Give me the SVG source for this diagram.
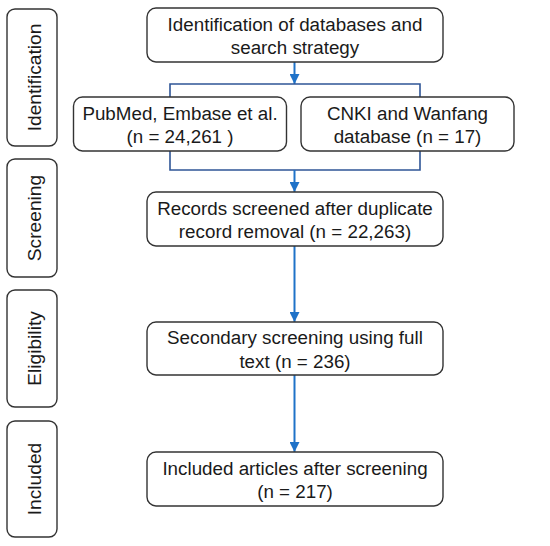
<svg xmlns="http://www.w3.org/2000/svg" width="550" height="546" viewBox="0 0 550 546">
<defs>
<style>
.box{fill:#fff;stroke:#333;stroke-width:1.4}
.t{font-family:"Liberation Sans",Arial,sans-serif;font-size:18.8px;fill:#1a1a1a;text-anchor:middle}
.s{font-size:19.2px}
.arr{stroke:#1f72c8;stroke-width:2;fill:none}
.br{stroke:#2f5597;stroke-width:1.6;fill:none}
</style>
<marker id="ah" viewBox="0 0 10 10" refX="10" refY="5" markerWidth="5" markerHeight="5" orient="auto" markerUnits="strokeWidth">
<path d="M0,0 L10,5 L0,10 z" fill="#1f72c8"/>
</marker>
</defs>
<rect width="550" height="546" fill="#fff"/>
<g id="side-identification"><rect class="box" x="7" y="9" width="50" height="137" rx="8"/><text class="t s" transform="translate(41,77.5) rotate(-90)">Identification</text></g>
<g id="side-screening"><rect class="box" x="7" y="159" width="50" height="118" rx="8"/><text class="t s" transform="translate(41,218) rotate(-90)">Screening</text></g>
<g id="side-eligibility"><rect class="box" x="7" y="290" width="50" height="117" rx="8"/><text class="t s" transform="translate(41,348.5) rotate(-90)">Eligibility</text></g>
<g id="side-included"><rect class="box" x="7" y="421" width="50" height="116" rx="8"/><text class="t s" transform="translate(41,479) rotate(-90)">Included</text></g>
<g id="connectors">
<line class="arr" x1="294.5" y1="62" x2="294.5" y2="84" marker-end="url(#ah)"/>
<polyline class="br" points="170,97 170,84 420,84 420,97"/>
<polyline class="br" points="170,151 170,170 420,170 420,151"/>
<line class="arr" x1="294.5" y1="170" x2="294.5" y2="192" marker-end="url(#ah)"/>
<line class="arr" x1="294.5" y1="246" x2="294.5" y2="322" marker-end="url(#ah)"/>
<line class="arr" x1="294.5" y1="375" x2="294.5" y2="452" marker-end="url(#ah)"/>
</g>
<g id="n1"><rect class="box" x="147" y="8" width="296" height="54" rx="9"/><text class="t" x="295" y="30.5">Identification of databases and</text><text class="t" x="295" y="54">search strategy</text></g>
<g id="n2"><rect class="box" x="73.5" y="97" width="213" height="54" rx="9"/><text class="t" x="180" y="119.5">PubMed, Embase et al.</text><text class="t" x="180" y="143">(n = 24,261 )</text></g>
<g id="n3"><rect class="box" x="301" y="97" width="213" height="54" rx="9"/><text class="t" x="407.5" y="119.5">CNKI and Wanfang</text><text class="t" x="407.5" y="143">database (n = 17)</text></g>
<g id="n4"><rect class="box" x="147" y="192" width="296" height="54" rx="9"/><text class="t" x="295" y="214.5">Records screened after duplicate</text><text class="t" x="295" y="238">record removal (n = 22,263)</text></g>
<g id="n5"><rect class="box" x="147" y="322" width="296" height="53" rx="9"/><text class="t" x="295" y="344">Secondary screening using full</text><text class="t" x="295" y="367.5">text (n = 236)</text></g>
<g id="n6"><rect class="box" x="147" y="452" width="296" height="54" rx="9"/><text class="t" x="295" y="474.5">Included articles after screening</text><text class="t" x="295" y="498">(n = 217)</text></g>
</svg>
